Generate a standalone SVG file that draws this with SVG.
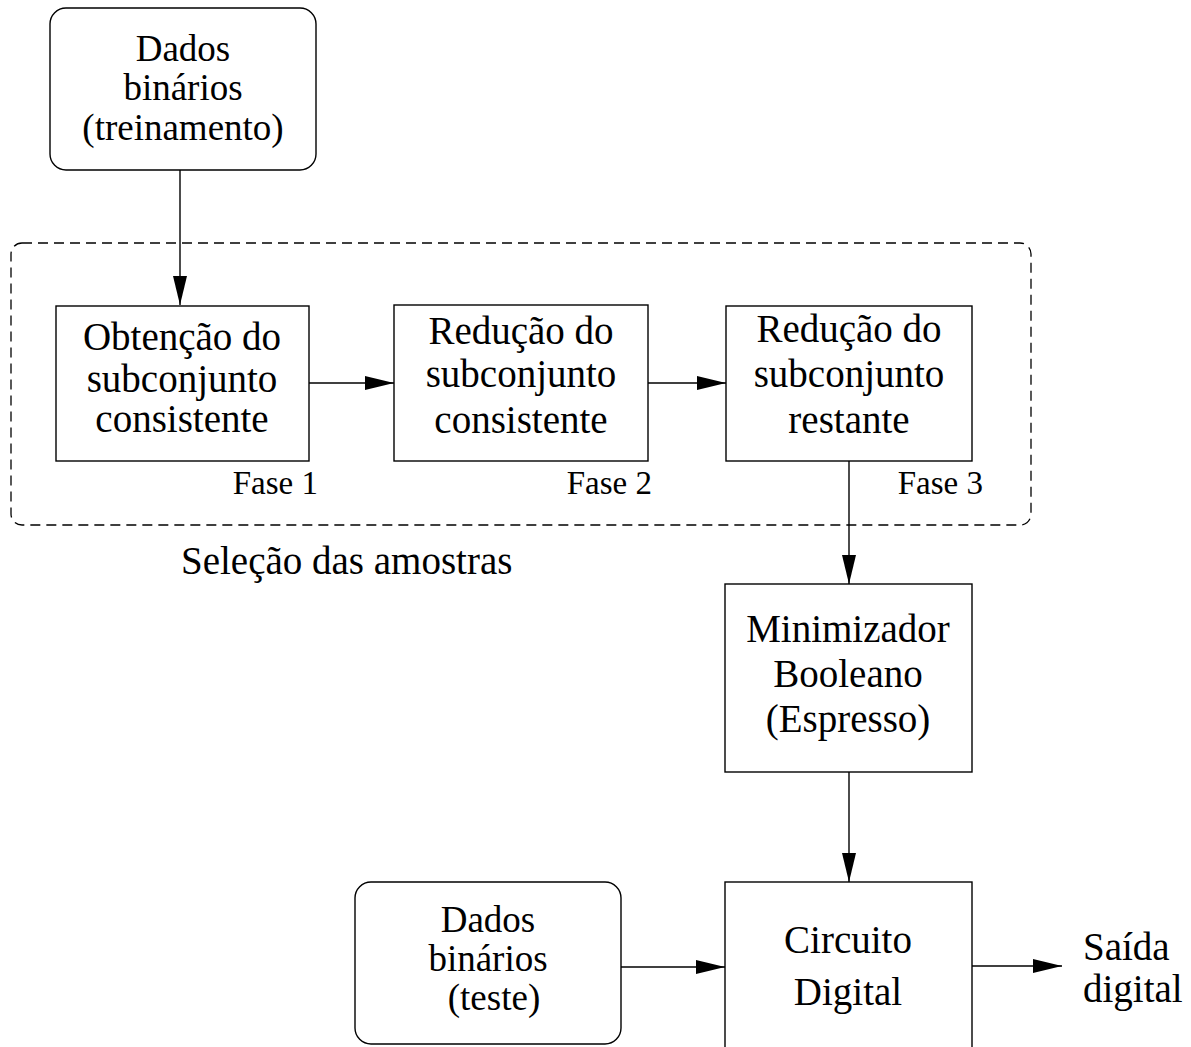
<svg xmlns="http://www.w3.org/2000/svg" width="1191" height="1047" viewBox="0 0 1191 1047">
<style>
.box{fill:#fff;stroke:#000;stroke-width:1.4}
.t{font-family:"Liberation Serif","Times New Roman",serif;font-size:39px;fill:#000;text-anchor:middle}
.s{font-size:37px}
.f{font-family:"Liberation Serif","Times New Roman",serif;font-size:33px;fill:#000;text-anchor:end}
.c{fill:none;stroke:#000;stroke-width:1.4}
.dash{fill:none;stroke:#000;stroke-width:1.3;stroke-dasharray:10 6}
</style>
<defs>
<marker id="ah" markerUnits="userSpaceOnUse" markerWidth="29" markerHeight="14" refX="29" refY="7" orient="auto">
<path d="M0,0 L29,7 L0,14 z" fill="#000"/>
</marker>
</defs>
<rect width="1191" height="1047" fill="#fff"/>
<g id="selecao">
<rect class="dash" x="11" y="243" width="1020" height="282" rx="11" ry="11"/>
<text x="181" y="574" class="t" style="text-anchor:start">Seleção das amostras</text>
</g>
<g id="connectors">
<line class="c" x1="180" y1="170" x2="180" y2="305" marker-end="url(#ah)"/>
<line class="c" x1="309" y1="383" x2="394" y2="383" marker-end="url(#ah)"/>
<line class="c" x1="648" y1="383" x2="726" y2="383" marker-end="url(#ah)"/>
<line class="c" x1="849" y1="461" x2="849" y2="584" marker-end="url(#ah)"/>
<line class="c" x1="849" y1="772" x2="849" y2="882" marker-end="url(#ah)"/>
<line class="c" x1="621" y1="967" x2="725" y2="967" marker-end="url(#ah)"/>
<line class="c" x1="972" y1="966" x2="1062" y2="966" marker-end="url(#ah)"/>
</g>
<g id="dados-treinamento">
<rect class="box" x="50" y="8" width="266" height="162" rx="16" ry="16"/>
<text class="t s" x="183" y="61">Dados</text>
<text class="t s" x="183" y="100">binários</text>
<text class="t s" x="183" y="140">(treinamento)</text>
</g>
<g id="fase1">
<rect class="box" x="56" y="306" width="253" height="155"/>
<text class="t" x="182" y="350">Obtenção do</text>
<text class="t" x="182" y="392">subconjunto</text>
<text class="t" x="182" y="432">consistente</text>
<text class="f" x="318" y="494">Fase 1</text>
</g>
<g id="fase2">
<rect class="box" x="394" y="305" width="254" height="156"/>
<text class="t" x="521" y="344">Redução do</text>
<text class="t" x="521" y="387">subconjunto</text>
<text class="t" x="521" y="433">consistente</text>
<text class="f" x="652" y="494">Fase 2</text>
</g>
<g id="fase3">
<rect class="box" x="726" y="306" width="246" height="155"/>
<text class="t" x="849" y="342">Redução do</text>
<text class="t" x="849" y="387">subconjunto</text>
<text class="t" x="849" y="433">restante</text>
<text class="f" x="983" y="494">Fase 3</text>
</g>
<g id="minimizador">
<rect class="box" x="725" y="584" width="247" height="188"/>
<text class="t" x="848" y="642">Minimizador</text>
<text class="t" x="848" y="687">Booleano</text>
<text class="t" x="848" y="732">(Espresso)</text>
</g>
<g id="dados-teste">
<rect class="box" x="355" y="882" width="266" height="162" rx="16" ry="16"/>
<text class="t s" x="488" y="932">Dados</text>
<text class="t s" x="488" y="971">binários</text>
<text class="t s" x="494" y="1010">(teste)</text>
</g>
<g id="circuito">
<rect class="box" x="725" y="882" width="247" height="200"/>
<text class="t" x="848" y="953">Circuito</text>
<text class="t" x="848" y="1005">Digital</text>
</g>
<g id="saida">
<text class="t" x="1083" y="960" style="text-anchor:start">Saída</text>
<text class="t" x="1083" y="1002" style="text-anchor:start">digital</text>
</g>
</svg>
